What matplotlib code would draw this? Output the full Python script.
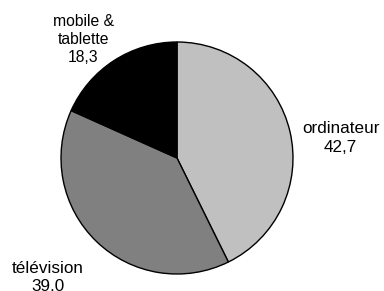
import matplotlib
matplotlib.use("Agg")
import matplotlib.pyplot as plt

categories = ["ordinateur", "télévision", "mobile &\ntablette"]
values = [42.7, 39.0, 18.3]
value_labels = ["42,7", "39,0", "18,3"]
colors = ["#c0c0c0", "#808080", "#000000"]

plt.rcParams['font.family'] = ['Liberation Sans', 'DejaVu Sans']

fig = plt.figure(figsize=(3.84, 2.91), dpi=100)
ax = fig.add_axes([61/384, 17/291, 232/384, 232/291])
wedges, _ = ax.pie(values, colors=colors, startangle=90, counterclock=False,
                   wedgeprops=dict(edgecolor="black", linewidth=1.0))
ax.set_xlim(-1, 1)
ax.set_ylim(-1, 1)
ax.set_aspect("equal")
ax.axis("off")

label_pos = [(1.411, 0.054), (-1.116, -1.15), (-0.81, 0.828)]
sizes = [12.3, 12.3, 11.3]
spacing = [1.3, 1.3, 1.25]
for (x, y), c, v, s, ls in zip(label_pos, categories, value_labels, sizes, spacing):
    ax.text(x, y, f"{c}\n{v}", ha="center", va="baseline", fontsize=s,
            clip_on=False, linespacing=ls)

fig.savefig("out.png", dpi=100)
